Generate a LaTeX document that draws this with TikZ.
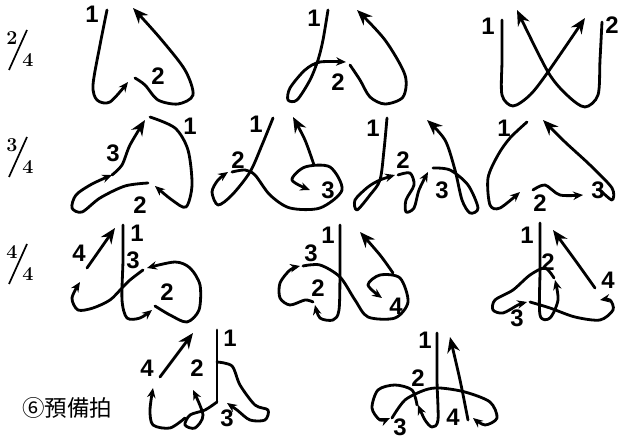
\documentclass[tikz,border=0pt]{standalone}
\usepackage{fontspec}
\setsansfont{Liberation Sans}
\newfontfamily\cjk{Noto Sans CJK TC}
\usetikzlibrary{arrows.meta}

\begin{document}
\begin{tikzpicture}[x=0.025cm,y=-0.025cm,
    stroke/.style={line width=2pt,line cap=round,line join=round},
    beat/.style={stroke,-{Stealth[length=11pt,width=9pt]}},
    tick/.style={stroke,-{Stealth[length=7pt,width=6pt]}},
    num/.style={font=\sffamily\bfseries\fontsize{17}{17}\selectfont,inner sep=1pt},
    metertop/.style={font=\bfseries\fontsize{14}{14}\selectfont,inner sep=0pt}]
    \useasboundingbox (0,0) rectangle (619,439);

    % time signatures
    \foreach \top/\y in {2/50,3/157,4/264}{
        \node[metertop] (top\top) at (12,\y-12) {\top};
        \node[metertop] (bot\top) at (28,\y+10) {4};
        \draw[line width=1.2pt] (9,\y+20) -- (27,\y-20);
    }
    \node[font=\cjk\fontsize{16}{16}\selectfont,inner sep=0pt] (prep) at (67,408) {⑥預備拍};

    % 2/4, first
    \draw[tick] plot[smooth] coordinates {(107,10) (100,45) (93,85) (97,100) (110,102) (128,82)};
    \draw[beat] plot[smooth] coordinates {(135,78) (145,85) (158,100) (178,104) (193,95) (185,70) (160,38) (133,8)};
    \node[num] (a1) at (92,14) {1};
    \node[num] (a2) at (158,76) {2};

    % 2/4, second
    \draw[tick] plot[smooth] coordinates {(328,10) (323,40) (318,60) (310,80) (297,100) (288,100) (290,88) (305,70) (320,62) (346,62)};
    \draw[beat] plot[smooth] coordinates {(350,65) (360,80) (370,97) (385,104) (403,97) (405,75) (385,40) (357,10)};
    \node[num] (b1) at (314,18) {1};
    \node[num] (b2) at (338,82) {2};

    % 2/4, third
    \draw[beat] plot[smooth] coordinates {(502,20) (502,60) (502,95) (513,106) (530,95) (548,72) (585,18)};
    \draw[beat] plot[smooth] coordinates {(602,22) (600,60) (598,95) (585,107) (568,96) (548,72) (517,10)};
    \node[num] (c1) at (488,26) {1};
    \node[num] (c2) at (612,25) {2};

    % 3/4, first
    \draw[tick] plot[smooth] coordinates {(150,117) (175,128) (188,150) (192,185) (186,207) (172,200) (155,186)};
    \draw[tick] plot[smooth] coordinates {(148,183) (125,186) (100,198) (82,212) (72,208) (76,195) (92,184) (112,175)};
    \draw[beat] plot[smooth] coordinates {(112,175) (122,165) (130,145) (145,120)};
    \node[num] (d1) at (190,126) {1};
    \node[num] (d2) at (140,205) {2};
    \node[num] (d3) at (113,153) {3};

    % 3/4, second
    \draw[tick] plot[smooth] coordinates {(273,118) (262,145) (250,172) (232,195) (218,205) (212,192) (218,180) (228,172)};
    \draw[tick] plot[smooth] coordinates {(232,172) (245,170) (255,175) (270,195) (290,208) (320,208) (342,190) (330,167) (305,167) (292,180) (310,190)};
    \draw[beat] plot[smooth] coordinates {(314,165) (305,140) (293,117)};
    \node[num] (e1) at (256,124) {1};
    \node[num] (e2) at (238,160) {2};
    \node[num] (e3) at (328,190) {3};

    % 3/4, third
    \draw[tick] plot[smooth] coordinates {(387,118) (384,150) (380,180) (370,195) (357,210) (355,200) (368,187) (380,180) (395,175)};
    \draw[tick] plot[smooth] coordinates {(398,175) (410,173) (414,185) (406,200) (406,212) (414,208) (419,190) (428,172)};
    \draw[beat] plot[smooth] coordinates {(433,168) (450,170) (468,185) (478,208) (470,213) (462,200) (455,170) (445,140) (427,120)};
    \node[num] (f1) at (373,128) {1};
    \node[num] (f2) at (403,160) {2};
    \node[num] (f3) at (442,190) {3};

    % 3/4, fourth
    \draw[tick] plot[smooth] coordinates {(527,122) (510,138) (498,155) (488,178) (490,205) (500,208) (520,192)};
    \draw[tick] plot[smooth] coordinates {(533,190) (545,185) (560,195) (583,195)};
    \draw[beat] plot[smooth] coordinates {(600,190) (612,200) (612,188) (590,165) (565,142) (543,120)};
    \node[num] (g1) at (504,128) {1};
    \node[num] (g2) at (540,203) {2};
    \node[num] (g3) at (598,190) {3};

    % 4/4, first
    \draw[tick] plot[smooth] coordinates {(123,225) (123,260) (122,300) (127,318) (140,318) (152,310)};
    \draw[tick] plot[smooth] coordinates {(155,306) (170,315) (187,322) (199,310) (200,285) (190,268) (175,262) (147,268)};
    \draw[tick] plot[smooth] coordinates {(143,270) (130,280) (122,288) (110,300) (93,308) (78,310) (72,298) (80,282)};
    \draw[beat] (87,268) -- (115,228);
    \node[num] (h1) at (137,233) {1};
    \node[num] (h2) at (167,292) {2};
    \node[num] (h3) at (133,260) {3};
    \node[num] (h4) at (79,253) {4};

    % 4/4, second
    \draw[tick] plot[smooth] coordinates {(340,225) (340,270) (339,310) (333,320) (320,318) (315,305)};
    \draw[tick] plot[smooth] coordinates {(313,302) (305,300) (290,305) (280,298) (280,283) (290,270) (300,266)};
    \draw[tick] plot[smooth] coordinates {(303,266) (320,265) (340,277) (355,300) (368,317) (395,318) (408,302) (400,278) (380,275) (368,285) (382,298)};
    \draw[beat] plot[smooth] coordinates {(393,273) (380,255) (360,232)};
    \node[num] (i1) at (328,235) {1};
    \node[num] (i2) at (318,288) {2};
    \node[num] (i3) at (311,253) {3};
    \node[num] (i4) at (396,306) {4};

    % 4/4, third
    \draw[tick] plot[smooth] coordinates {(540,223) (540,270) (540,315) (550,318) (558,300) (555,280)};
    \draw[tick] plot[smooth] coordinates {(554,278) (545,268) (530,275) (513,290) (495,300) (493,310) (503,313) (518,305) (527,302)};
    \draw[tick] plot[smooth] coordinates {(530,302) (550,308) (575,317) (600,320) (613,310) (610,300) (600,300)};
    \draw[beat] plot[smooth] coordinates {(595,288) (575,260) (553,230)};
    \node[num] (j1) at (527,235) {1};
    \node[num] (j2) at (548,262) {2};
    \node[num] (j3) at (517,318) {3};
    \node[num] (j4) at (608,280) {4};

    % preparatory beat, first
    \draw[stroke] (217,330) -- (217,402);
    \draw[tick] plot[smooth] coordinates {(217,362) (232,366) (240,385) (255,405) (268,410) (265,420) (250,420) (237,410) (227,403)};
    \draw[tick] plot[smooth] coordinates {(217,402) (205,410) (190,415) (185,425) (195,428) (203,415) (193,390)};
    \draw[tick] plot[smooth] coordinates {(185,418) (170,428) (153,425) (150,410) (153,388)};
    \draw[beat] (160,377) -- (193,333);
    \node[num] (k1) at (230,338) {1};
    \node[num] (k2) at (197,368) {2};
    \node[num] (k3) at (227,418) {3};
    \node[num] (k4) at (147,368) {4};

    % preparatory beat, second
    \draw[tick] plot[smooth] coordinates {(437,333) (437,380) (438,420) (432,427) (425,420) (418,405)};
    \draw[tick] plot[smooth] coordinates {(417,405) (412,390) (395,385) (378,390) (372,408) (380,420) (390,418)};
    \draw[tick] plot[smooth] coordinates {(392,418) (405,400) (425,390) (440,388) (465,392) (490,402) (497,418) (485,425) (473,418)};
    \draw[beat] plot[smooth] coordinates {(468,420) (460,380) (450,337)};
    \node[num] (l1) at (425,340) {1};
    \node[num] (l2) at (418,378) {2};
    \node[num] (l3) at (400,427) {3};
    \node[num] (l4) at (453,417) {4};
\end{tikzpicture}
\end{document}
